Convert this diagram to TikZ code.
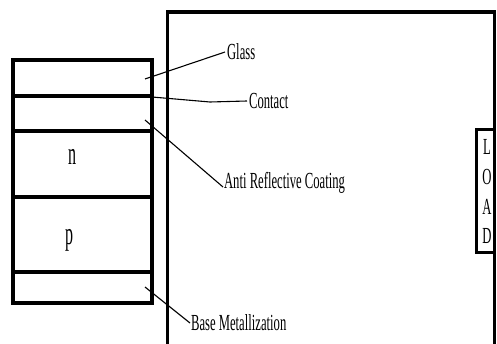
\documentclass[tikz,border=0pt]{standalone}
\usepackage{fontspec}
\setmainfont{Liberation Serif}
\begin{document}
\begin{tikzpicture}[x=1pt,y=-1pt,
  lbl/.style={inner sep=0pt,font=\fontsize{23}{23}\selectfont,xscale=0.55},
  big/.style={inner sep=0pt,font=\fontsize{32}{32}\selectfont,xscale=0.5},
  layer/.style={line width=3.4pt},
  wire/.style={line width=3pt},
  leader/.style={line width=1.1pt}]
\useasboundingbox (0,0) rectangle (497,344);
% layer stack
\draw[layer] (13,60) rectangle (152,303);
\foreach \yy in {96,131,197,272} \draw[layer] (13,\yy) -- (152,\yy);
\node[big] (n) at (72,157) {n};
\node[big] (p) at (69,240) {p};
% circuit
\coordinate (bl) at (167,350);
\coordinate (tl) at (167,12);
\coordinate (tr) at (494.5,12);
\coordinate (br) at (494.5,350);
\node[draw,line width=2.6pt,minimum width=18pt,minimum height=123pt,inner sep=0pt,anchor=north east] (load) at (496,128) {};
\draw[wire] (bl) -- (tl) -- (tr) -- (load.north -| tr);
\draw[wire] (load.south -| br) -- (br);
\draw[line width=3.6pt] (tl) -- (tr);
\node[lbl] (L) at (487,147) {L};
\node[lbl] (O) at (487,177) {O};
\node[lbl] (A) at (487,207) {A};
\node[lbl] (D) at (487,236) {D};
% labels
\node[lbl,anchor=west] (glass) at (227,52) {Glass};
\node[lbl,anchor=west] (contact) at (249,101) {Contact};
\node[lbl,anchor=west] (arc) at (224,183) {Anti Reflective Coating};
\node[lbl,anchor=west] (base) at (191,323) {Base Metallization};
% leader start points
\coordinate (g0) at (145,79);
\coordinate (c0) at (152,97);
\coordinate (c1) at (210,102);
\coordinate (a0) at (145,120);
\coordinate (b0) at (145,287);
\draw[leader] (g0) -- ([xshift=-2pt]glass.west);
\draw[leader] (c0) -- (c1) -- ([xshift=-2pt]contact.west);
\draw[leader] (a0) -- ([xshift=-1pt,yshift=-4pt]arc.west);
\draw[leader] (b0) -- ([xshift=-1pt]base.west);
\end{tikzpicture}
\end{document}
